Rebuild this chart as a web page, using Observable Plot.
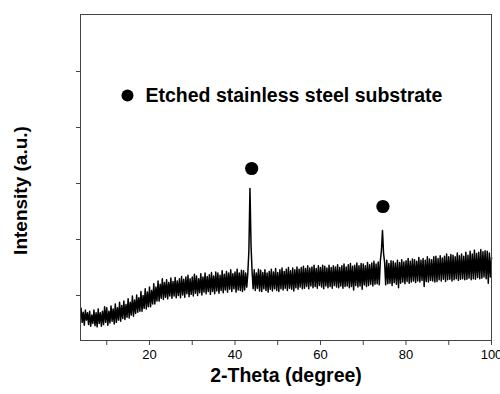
<!DOCTYPE html>
<html><head><meta charset="utf-8">
<script src="https://cdn.jsdelivr.net/npm/d3@7"></script>
<script src="https://cdn.jsdelivr.net/npm/@observablehq/plot@0.6"></script>
<style>body{margin:0;background:#fff} svg{display:block}</style>
</head><body><div id="chart"></div>
<script>
// XRD scan: 2-theta from 4 to 100 degrees, step 0.25 degree
const thetaStart = 4;
const thetaStep = 0.25;
const intensity = [
  770,520,700,470, 740,560,690,480,
  720,450,650,500, 740,460,690,440,
  760,500,690,450, 720,480,800,520,
  780,470,720,510, 810,540,760,490,
  850,520,780,560, 880,540,820,590,
  900,570,840,610, 940,600,880,650,
  990,630,920,680, 1010,700,960,720,
  1070,720,1000,770, 1120,760,1060,800,
  1150,800,1090,850, 1210,850,1150,900,
  1260,900,1200,950, 1300,930,1230,970,
  1280,940,1230,990, 1310,950,1250,990,
  1320,960,1260,1000, 1300,960,1340,1010,
  1290,970,1330,1030, 1360,980,1300,1020,
  1330,990,1380,1040, 1350,1000,1300,1050,
  1390,1010,1330,1060, 1400,1030,1340,1070,
  1370,1020,1410,1070, 1350,1030,1420,1080,
  1400,1040,1360,1090, 1440,1050,1380,1100,
  1430,1060,1400,1110, 1460,1070,1390,1120,
  1420,1060,1470,1100, 1400,1090,1450,1070,
  1440,1100,1400,1150, 1400,1800,2910,1900,
  1420,1120,1460,1090, 1400,1130,1470,1080,
  1450,1070,1410,1120, 1460,1090,1400,1060,
  1430,1110,1470,1080, 1420,1120,1480,1090,
  1410,1070,1460,1120, 1490,1100,1430,1130,
  1470,1090,1500,1130, 1440,1110,1490,1080,
  1460,1140,1510,1110, 1470,1150,1500,1120,
  1520,1130,1480,1160, 1530,1120,1490,1170,
  1510,1140,1540,1160, 1480,1130,1530,1180,
  1500,1150,1540,1120, 1520,1170,1490,1140,
  1540,1160,1500,1130, 1530,1180,1510,1150,
  1550,1140,1500,1170, 1530,1130,1560,1160,
  1510,1170,1550,1140, 1570,1160,1520,1100,
  1540,1180,1580,1150, 1530,1170,1570,1110,
  1560,1190,1530,1160, 1590,1180,1550,1200,
  1580,1170,1610,1200, 1560,1210,1600,1190,
  1620,1800,2160,1750, 1590,1190,1630,1210,
  1570,1220,1620,1180, 1610,1230,1580,1200,
  1630,1140,1590,1220, 1640,1240,1600,1210,
  1620,1250,1660,1220, 1610,1240,1650,1260,
  1640,1230,1610,1260, 1680,1240,1630,1270,
  1660,1160,1630,1250, 1690,1240,1650,1270,
  1640,1260,1690,1240, 1700,1250,1660,1280,
  1710,1260,1670,1290, 1700,1250,1740,1280,
  1690,1290,1730,1260, 1720,1280,1690,1300,
  1760,1270,1710,1290, 1740,1300,1700,1280,
  1770,1290,1720,1310, 1790,1280,1740,1300,
  1810,1290,1750,1320, 1770,1300,1820,1310,
  1780,1330,1800,1300, 1790,1220,1760,1330,
  1680
];
const peakTheta = [43.9, 74.6];
const peakMarkIntensity = [3268, 2589];
const legendLabel = ["Etched stainless steel substrate"];
const legendTheta = [14.85];
const legendIntensity = [4572];
const xTicks = [10, 20, 30, 40, 50, 60, 70, 80, 90, 100];
const xLabeled = [20, 40, 60, 80, 100];
const yTicks = [1000, 2000, 3000, 4000, 5000];
const xTitle = "2-Theta (degree)";
const yTitle = "Intensity (a.u.)";

const scan = intensity.map((v, i) => ({theta: thetaStart + i * thetaStep, v}));
const peaks = peakTheta.map((t, i) => ({theta: t, v: peakMarkIntensity[i]}));
const legend = legendLabel.map((s, i) => ({theta: legendTheta[i], v: legendIntensity[i], s}));

const font = "'Liberation Sans', Arial, sans-serif";
const chart = Plot.plot({
  width: 500, height: 394,
  marginLeft: 80, marginRight: 9, marginTop: 14, marginBottom: 54,
  style: {fontFamily: font, background: "#fff", color: "#000"},
  x: {domain: [3.86, 100]},
  y: {domain: [196, 6018]},
  marks: [
    Plot.line(scan, {x: "theta", y: "v", stroke: "#000", strokeWidth: 1.5}),
    Plot.dot(peaks, {x: "theta", y: "v", r: 6.6, fill: "#000", stroke: "none"}),
    Plot.dot(legend, {x: "theta", y: "v", r: 6, fill: "#000", stroke: "none"}),
    Plot.text(legend, {x: "theta", y: "v", text: "s", dx: 18, textAnchor: "start", fontSize: 19.5, fontWeight: "bold", fill: "#000"}),
    Plot.axisX({ticks: xTicks, tickFormat: d => xLabeled.includes(d) ? String(d) : "", tickSize: 5, tickPadding: 4, fontSize: 13, label: null, stroke: "#444"}),
    Plot.axisY({ticks: yTicks, tickFormat: () => "", tickSize: 4, label: null, stroke: "#444"}),
    Plot.frame({stroke: "#444"}),
    Plot.text([xTitle], {frameAnchor: "bottom", dy: 41, fontSize: 19.5, fontWeight: "bold", fill: "#000"}),
    Plot.text([yTitle], {frameAnchor: "left", textAnchor: "middle", dx: -60, dy: 13, rotate: -90, fontSize: 19, fontWeight: "bold", fill: "#000"})
  ]
});
document.getElementById("chart").appendChild(chart);
</script>
</body></html>
